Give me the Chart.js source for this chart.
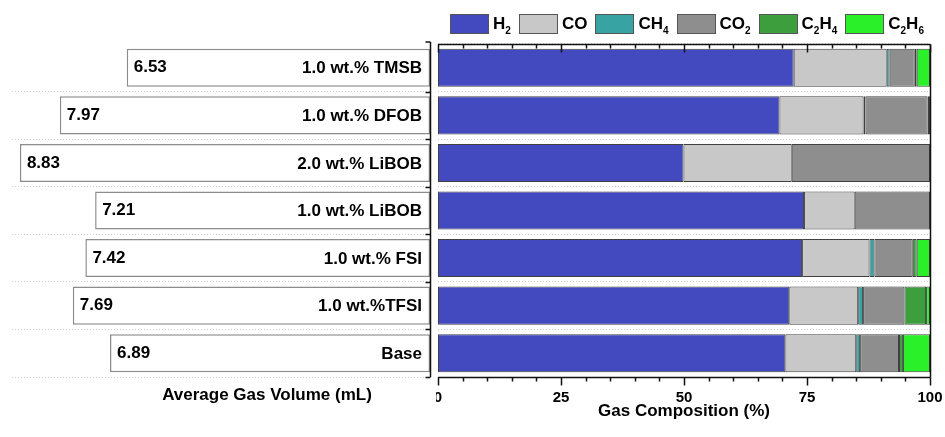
<!DOCTYPE html>
<html><head><meta charset="utf-8">
<script src="https://cdn.jsdelivr.net/npm/chart.js@4/dist/chart.umd.min.js"></script>
<style>
html,body{margin:0;padding:0;background:#fff;}
#wrap{position:relative;width:945px;height:437px;overflow:hidden;font-family:'Liberation Sans',Arial,Helvetica,sans-serif;}
#c1{position:absolute;left:0;top:0;}
#c2{position:absolute;left:436px;top:0;}
#legend{position:absolute;left:427px;width:520px;top:14px;display:flex;justify-content:center;align-items:flex-start;gap:8px;font-weight:bold;font-size:17px;color:#000;line-height:19px;}
#legend .item{display:flex;align-items:flex-start;}
#legend .box{width:37px;height:18px;border:1px solid #555;margin-right:4px;}
#legend sub{font-size:10px;line-height:0;vertical-align:-5px;}
</style></head><body>
<div id="wrap"><canvas id="c1" width="436" height="437"></canvas><canvas id="c2" width="509" height="437"></canvas><div id="legend"></div></div>
<script>
// ---- data ----
const categories = ['1.0 wt.% TMSB','1.0 wt.% DFOB','2.0 wt.% LiBOB','1.0 wt.% LiBOB','1.0 wt.% FSI','1.0 wt.%TFSI','Base'];
const gasVolume = [6.53, 7.97, 8.83, 7.21, 7.42, 7.69, 6.89];
const gasNames = ['H2','CO','CH4','CO2','C2H4','C2H6'];
const h2   = [72.3, 69.4, 49.9, 74.4, 74.0, 71.4, 70.6];
const co   = [18.9, 17.1, 22.0, 10.3, 13.7, 14.0, 14.4];
const ch4  = [0.6, 0.4, 0.0, 0.0, 1.0, 1.0, 0.8];
const co2  = [5.1, 12.6, 28.1, 15.3, 7.8, 8.4, 7.9];
const c2h4 = [0.4, 0.3, 0.0, 0.0, 0.8, 4.4, 0.8];
const c2h6 = [2.7, 0.2, 0.0, 0.0, 2.7, 0.8, 5.5];
const compTicks = [0, 25, 50, 75, 100];
const volumeTitle = 'Average Gas Volume (mL)';
const compTitle = 'Gas Composition (%)';

const gasColors = ['#4349BF','#C8C8C8','#37A3A3','#8E8E8E','#3C9E3C','#2AF02A'];
const FONT = "'Liberation Sans', Arial, Helvetica, sans-serif";
Chart.defaults.font.family = FONT;
Chart.defaults.font.weight = 'bold';
Chart.defaults.color = '#000';
Chart.defaults.animation = false;

// ---- HTML legend with real subscripts ----
const legendEl = document.getElementById('legend');
gasNames.forEach((n, k) => {
  const item = document.createElement('div'); item.className = 'item';
  const box = document.createElement('div'); box.className = 'box'; box.style.background = gasColors[k];
  const txt = document.createElement('span');
  txt.innerHTML = n.replace(/(\d)/g, '<sub>$1</sub>');
  item.appendChild(box); item.appendChild(txt); legendEl.appendChild(item);
});

// ---- left chart ----
const nCat = categories.length;
const leftPlugin = {
  id: 'leftDeco',
  afterDraw(chart) {
    const ctx = chart.ctx, ca = chart.chartArea, ys = chart.scales.y;
    ctx.save();
    ctx.strokeStyle = '#111'; ctx.lineWidth = 1.5;
    const ax = ca.right + 0.5;
    ctx.beginPath(); ctx.moveTo(ax, ca.top - 2); ctx.lineTo(ax, ca.bottom); ctx.stroke();
    for (let i = 0; i <= nCat; i++) {
      let y = Math.round(ys.getPixelForValue(i - 0.5)) + 0.5;
      if (i === 0) y = ca.top - 2;
      ctx.beginPath(); ctx.moveTo(ax, y); ctx.lineTo(ax - 5, y); ctx.stroke();
    }
    ctx.fillStyle = '#000';
    ctx.font = 'bold 17px ' + FONT;
    ctx.textBaseline = 'middle';
    const meta = chart.getDatasetMeta(0);
    meta.data.forEach((bar, i) => {
      ctx.textAlign = 'left';
      ctx.fillText(gasVolume[i].toFixed(2), bar.x + 7, bar.y);
      ctx.textAlign = 'right';
      ctx.fillText(categories[i], ca.right - 8, bar.y + 1);
    });
    ctx.textAlign = 'center';
    ctx.fillText(volumeTitle, 267, 395);
    ctx.restore();
  }
};

const gridColor = (c) => (c.index === 0 || c.index >= nCat) ? 'rgba(0,0,0,0)' : '#d0d0d0';

new Chart(document.getElementById('c1'), {
  type: 'bar',
  data: { labels: categories, datasets: [{
    data: gasVolume, backgroundColor: '#fff', borderColor: '#8c8c8c', borderWidth: 1.5,
    borderSkipped: false, barPercentage: 0.8, categoryPercentage: 1
  }]},
  options: {
    indexAxis: 'y', responsive: false,
    layout: { padding: { left: 12, right: 6, top: 44, bottom: 60 } },
    plugins: { legend: { display: false }, tooltip: { enabled: false } },
    scales: {
      x: { reverse: true, min: 0, max: 9, display: false },
      y: { position: 'right', ticks: { display: false },
           afterFit: (s) => { s.width = 0; },
           grid: { offset: true, color: gridColor, drawTicks: false, lineWidth: 1 },
           border: { display: false, dash: [1, 2] } }
    }
  },
  plugins: [leftPlugin]
});

// ---- right chart ----
const rightPlugin = {
  id: 'rightDeco',
  afterDraw(chart) {
    const ctx = chart.ctx, ca = chart.chartArea, xs = chart.scales.x;
    ctx.save();
    ctx.strokeStyle = '#111'; ctx.lineWidth = 1.5;
    const top = ca.top + 0.5, bot = ca.bottom + 0.5, right = ca.right + 0.5;
    ctx.beginPath();
    ctx.moveTo(ca.left, top); ctx.lineTo(right, top);
    ctx.moveTo(right, top); ctx.lineTo(right, bot);
    ctx.moveTo(ca.left, bot); ctx.lineTo(right, bot);
    ctx.stroke();
    for (let v = 0; v <= 100; v += 5) {
      const x = Math.round(xs.getPixelForValue(v)) + 0.5;
      const len = (v % 25 === 0) ? 8 : 4;
      ctx.beginPath();
      ctx.moveTo(x, top); ctx.lineTo(x, top + len);
      ctx.moveTo(x, bot); ctx.lineTo(x, bot + len);
      ctx.stroke();
    }
    ctx.restore();
  }
};

const seriesList = [h2, co, ch4, co2, c2h4, c2h6];
new Chart(document.getElementById('c2'), {
  type: 'bar',
  data: { labels: categories, datasets: seriesList.map((s, k) => ({
    label: gasNames[k], data: s, backgroundColor: gasColors[k],
    borderColor: 'rgba(30,30,30,0.85)', borderWidth: 1, borderSkipped: false,
    barPercentage: 0.8, categoryPercentage: 1
  }))},
  options: {
    indexAxis: 'y', responsive: false,
    layout: { padding: { left: 2, right: 15, top: 44, bottom: 0 } },
    plugins: { tooltip: { enabled: false }, legend: { display: false } },
    scales: {
      x: { stacked: true, min: 0, max: 100,
           afterBuildTicks: (s) => { s.ticks = compTicks.map(v => ({ value: v })); },
           afterFit: (s) => { s.paddingLeft = 0; s.paddingRight = 0; s.height = 60; },
           ticks: { font: { size: 15, weight: 'bold', lineHeight: 1 }, padding: 13, maxRotation: 0 },
           grid: { display: false, drawTicks: false }, border: { display: false },
           title: { display: true, text: compTitle, font: { size: 17, weight: 'bold', lineHeight: 1 }, padding: { top: 0, bottom: 17 } } },
      y: { stacked: true, ticks: { display: false },
           afterFit: (s) => { s.width = 0; },
           grid: { offset: true, color: '#d0d0d0', drawTicks: false },
           border: { display: false, dash: [1, 2] } }
    }
  },
  plugins: [rightPlugin]
});
</script>
</body></html>
